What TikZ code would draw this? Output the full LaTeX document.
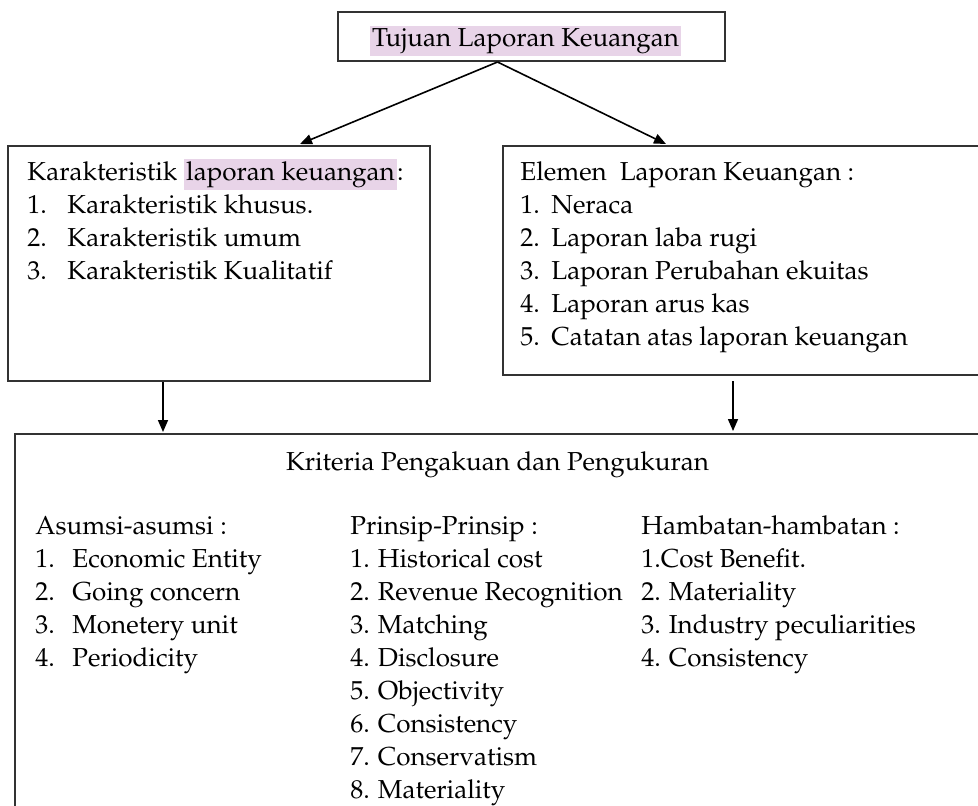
\documentclass[tikz,border=0pt]{standalone}
\usepackage[T1]{fontenc}
\usepackage{mathpazo}
\usetikzlibrary{arrows.meta,positioning}
\definecolor{hlpink}{HTML}{E8D4E8}
\definecolor{boxgray}{HTML}{333333}
\newcommand{\hlt}[1]{{\setlength{\fboxsep}{1.2pt}\colorbox{hlpink}{\rule[-2.8pt]{0pt}{11.3pt}#1}}}

\begin{document}
\begin{tikzpicture}[x=0.5pt,y=-0.5pt,
  box/.style={draw=boxgray,line width=1pt,rectangle,inner sep=0pt},
  txt/.style={inner sep=0pt,align=left,anchor=base west,font=\fontsize{13}{16.5}\selectfont},
  arr/.style={line width=0.8pt,-{Triangle[length=6pt,width=5pt]}}]
\clip (0,0) rectangle (978,805);
% Tujuan
\node[box,minimum width=193.5pt,minimum height=24.5pt] (tujuan) at (531.5,36.5) {};
\node[txt,anchor=base] (tujuantxt) at (525.5,46) {\hlt{Tujuan Laporan Keuangan}};
% Karakteristik and Elemen (text nodes sit on their last line)
\node[box,minimum width=211pt,minimum height=117.5pt] (kar) at (219,263.5) {};
\node[txt] (kartxt) at (27,279) {Karakteristik \hlt{laporan keuangan}:\\
  \makebox[20pt][l]{1.}Karakteristik khusus.\\
  \makebox[20pt][l]{2.}Karakteristik umum\\
  \makebox[20pt][l]{3.}Karakteristik Kualitatif};
\node[box,minimum width=243.5pt,minimum height=114.5pt] (elemen) at (746.5,260.5) {};
\node[txt] (elementxt) at (520,345) {Elemen\ \ Laporan Keuangan :\\
  \makebox[15.5pt][l]{1.}Neraca\\
  \makebox[15.5pt][l]{2.}Laporan laba rugi\\
  \makebox[15.5pt][l]{3.}Laporan Perubahan ekuitas\\
  \makebox[15.5pt][l]{4.}Laporan arus kas\\
  \makebox[15.5pt][l]{5.}Catatan atas laporan keuangan};
% Kriteria
\node[box,minimum width=492.5pt,minimum height=198pt] (kriteria) at (507.5,632) {};
\node[txt,anchor=base] (kriteriatxt) at (497.5,470) {Kriteria Pengakuan dan Pengukuran};
\node[txt] (asumsi) at (35,666) {Asumsi-asumsi :\\
  \makebox[18.5pt][l]{1.}Economic Entity\\
  \makebox[18.5pt][l]{2.}Going concern\\
  \makebox[18.5pt][l]{3.}Monetery unit\\
  \makebox[18.5pt][l]{4.}Periodicity};
\node[txt] (prinsip) at (350,798) {Prinsip-Prinsip :\\
  1. Historical cost\\ 2. Revenue Recognition\\ 3. Matching\\ 4. Disclosure\\
  5. Objectivity\\ 6. Consistency\\ 7. Conservatism\\ 8. Materiality};
\node[txt] (hambatan) at (641,666) {Hambatan-hambatan :\\
  1.Cost Benefit.\\ 2. Materiality\\ 3. Industry peculiarities\\ 4. Consistency};
% connectors
\coordinate (tipL) at (300,144);
\coordinate (tipR) at (666,144);
\coordinate (dL) at (163,432);
\coordinate (dR) at (733,431);
\draw[arr] ([xshift=-17pt]tujuan.south) -- (tipL);
\draw[arr] ([xshift=-17pt]tujuan.south) -- (tipR);
\draw[arr] (kar.south -| dL) -- (dL);
\draw[arr] ([yshift=-2.5pt]elemen.south -| dR) -- (dR);
\end{tikzpicture}
\end{document}
